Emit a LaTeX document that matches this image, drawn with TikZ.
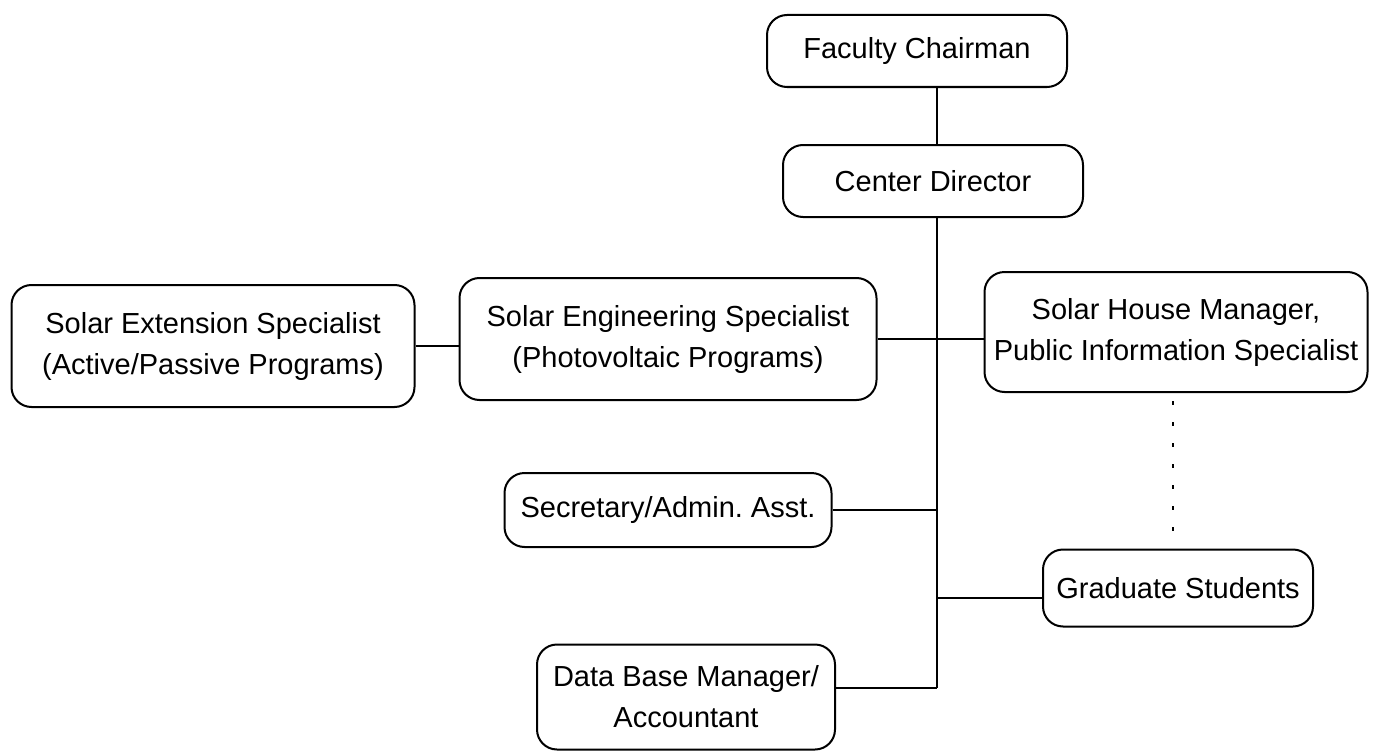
\documentclass[tikz,border=0pt]{standalone}
\usepackage{fontspec}
\setmainfont{Liberation Sans}
\usepackage{tikz}
\usetikzlibrary{positioning}

\tikzset{
  post/.style={draw, line width=2pt, rounded corners=20pt, align=center, inner sep=0pt,
    font=\fontsize{29}{41}\selectfont},
  link/.style={line width=2pt},
  dotlink/.style={line width=2pt, dash pattern=on 4pt off 17pt}
}

\begin{document}
\begin{tikzpicture}[x=1pt, y=-1pt]
\useasboundingbox (0,0) rectangle (1387,752);
\coordinate (trunk) at (937,0);

\node[post, minimum width=300, minimum height=72] (fac) at (917,51) {Faculty Chairman};
\node[post, minimum width=300, minimum height=72] (dir) at (933,181) {Center Director};
\node[post, minimum width=403, minimum height=122] (ext) at (213,346) {Solar Extension Specialist\\(Active/Passive Programs)};
\node[post, minimum width=417, minimum height=122] (eng) at (668,339) {Solar Engineering Specialist\\(Photovoltaic Programs)};
\node[post, minimum width=383, minimum height=120] (house) at (1176,332) {Solar House Manager,\\Public Information Specialist};
\node[post, minimum width=327, minimum height=74] (sec) at (668,510) {Secretary/Admin.\ Asst.};
\node[post, minimum width=270, minimum height=77] (grad) at (1178,588) {Graduate Students};
\node[post, minimum width=298, minimum height=105] (db) at (686,697) {Data Base Manager/\\Accountant};

% chain of command
\draw[link] (fac.south -| trunk) -- (dir.north -| trunk);
\draw[link] (dir.south -| trunk) -- ([yshift=9pt]db.east -| trunk);
\draw[link] (ext.east) -- (ext.east -| eng.west);
\draw[link] (eng.east) -- (eng.east -| house.west);
\draw[link] (sec.east) -- (sec.east -| trunk);
\draw[link] ([yshift=-10pt]grad.west) -- ([yshift=-10pt]grad.west -| trunk);
\draw[link] ([yshift=9pt]db.east) -- ([yshift=9pt]db.east -| trunk);
\draw[dotlink, shorten <=8pt, shorten >=14pt] ([xshift=-3pt]house.south) -- ([xshift=-5pt]grad.north);
\end{tikzpicture}
\end{document}
